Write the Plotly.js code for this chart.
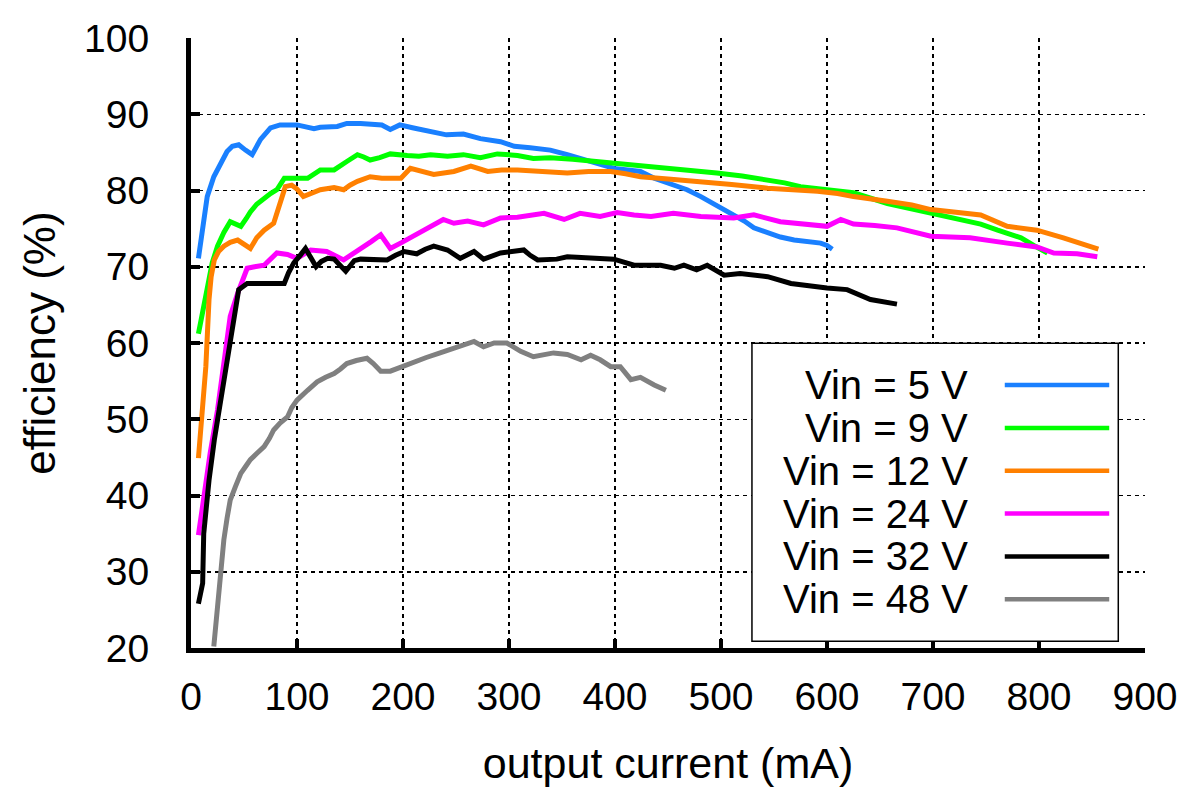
<!DOCTYPE html>
<html>
<head>
<meta charset="utf-8">
<script src="https://cdn.plot.ly/plotly-3.0.1.min.js"></script>
<style>html,body{margin:0;padding:0;background:#fff;}#chart{width:1192px;height:787px;}</style>
</head>
<body>
<div id="chart"></div>
<script>
// ---- data ----
const seriesNames = ["Vin = 5 V", "Vin = 9 V", "Vin = 12 V", "Vin = 24 V", "Vin = 32 V", "Vin = 48 V"];
const seriesColors = ["#1a80ff", "#00ff00", "#ff8000", "#ff00ff", "#000000", "#808080"];

const x5 = [7, 10.6, 15.3, 21.5, 27.8, 34, 39, 45, 51.4, 57.7, 65.6, 75, 84, 100, 116, 122, 138, 147, 160, 172, 180, 188, 197, 210, 225, 241, 257, 273, 292, 305, 320, 339, 355, 371, 385, 399, 412, 424, 437, 452, 468, 481, 493, 503, 512, 522, 531, 544, 556, 569, 581, 594, 600, 605];
const y5 = [71.1, 74.8, 79.2, 81.8, 83.6, 85.1, 85.8, 86, 85.3, 84.7, 86.7, 88.2, 88.6, 88.6, 88.1, 88.3, 88.4, 88.8, 88.8, 88.7, 88.6, 88, 88.6, 88.2, 87.8, 87.3, 87.4, 86.8, 86.4, 85.8, 85.6, 85.3, 84.7, 84, 83.5, 82.9, 82.7, 82.5, 81.6, 80.9, 80.1, 79.2, 78.3, 77.6, 76.8, 76, 75.1, 74.4, 73.9, 73.5, 73.3, 73.1, 72.8, 72.3];

const x9 = [7, 11, 15, 20, 25, 31, 37, 42, 47, 52, 56, 62, 69, 75, 81, 88, 95, 110, 122, 135, 147, 157, 163, 169, 178, 188, 204, 215, 226, 242, 257, 273, 289, 308, 323, 339, 360, 383, 400, 418, 433, 449, 472, 496, 520, 544, 560, 575, 600, 625, 657, 680, 698, 715, 729, 745, 761, 772, 783, 795, 808];
const y9 = [61.2, 64.3, 67.4, 70.5, 72.7, 74.5, 75.9, 75.6, 75.3, 76.3, 77.2, 78.2, 79, 79.6, 80.1, 81.6, 81.6, 81.6, 82.7, 82.7, 83.8, 84.7, 84.4, 84, 84.3, 84.8, 84.6, 84.5, 84.7, 84.5, 84.7, 84.3, 84.8, 84.6, 84.2, 84.3, 84.1, 83.8, 83.6, 83.4, 83.1, 82.9, 82.6, 82.3, 81.9, 81.4, 81, 80.5, 80.1, 79.7, 78.3, 77.6, 77, 76.6, 76.2, 75.6, 74.8, 74.3, 73.8, 72.8, 71.8];

const x12 = [7, 9, 11, 14, 17, 19, 22, 26, 31, 37, 44, 50, 56, 62, 69, 78, 84, 89, 95, 100, 106, 114, 122, 135, 144, 150, 157, 169, 180, 191, 198, 207, 218, 229, 248, 264, 280, 293, 308, 325, 355, 375, 396, 410, 424, 450, 481, 510, 544, 570, 591, 610, 625, 657, 680, 698, 720, 745, 770, 798, 823, 845, 856];
const y12 = [44.9, 48.5, 52.1, 56.9, 65.7, 68.7, 70.9, 72, 72.7, 73.2, 73.5, 73, 72.4, 73.8, 74.8, 75.7, 78.3, 80.5, 80.7, 80.2, 79.2, 79.7, 80.1, 80.4, 80.1, 80.7, 81.2, 81.8, 81.6, 81.6, 81.6, 82.9, 82.5, 82.1, 82.5, 83.2, 82.5, 82.7, 82.7, 82.6, 82.3, 82.5, 82.5, 82.2, 81.8, 81.5, 81.2, 80.8, 80.3, 80.1, 79.9, 79.6, 79.2, 78.6, 78.1, 77.5, 77.2, 76.8, 75.3, 74.8, 73.8, 72.9, 72.3];

const x24 = [7, 12, 18, 25, 31, 37, 44, 53, 60, 69, 75, 81, 91, 100, 113, 128, 144, 152, 160, 170, 179, 188, 199, 210, 225, 238, 248, 261, 276, 292, 308, 333, 352, 367, 386, 402, 418, 434, 455, 481, 512, 531, 556, 575, 591, 600, 613, 625, 645, 666, 698, 735, 770, 798, 814, 836, 855];
const y24 = [34.8, 39.8, 45.5, 51.2, 56.9, 63.5, 66.5, 69.8, 70, 70.2, 71, 71.8, 71.6, 71.1, 72.2, 72, 70.9, 71.6, 72.4, 73.3, 74.2, 72.4, 73.2, 74, 75.1, 76.2, 75.7, 76, 75.5, 76.4, 76.5, 77, 76.2, 77, 76.6, 77.1, 76.8, 76.6, 77, 76.6, 76.4, 76.8, 75.9, 75.7, 75.5, 75.3, 76.2, 75.6, 75.4, 75.1, 74, 73.8, 73.1, 72.6, 71.8, 71.7, 71.3];

const x32 = [7, 11, 12, 17, 22, 28, 34, 42, 45, 53, 65, 75, 88, 92, 97, 103, 108, 113, 118, 123, 129, 135, 141, 146, 150, 154, 160, 166, 175, 185, 193, 201, 213, 221, 229, 242, 254, 267, 276, 292, 314, 320, 327, 345, 355, 374, 399, 418, 443, 456, 465, 477, 487, 503, 518, 544, 566, 600, 619, 641, 666];
const y32 = [25.8, 28.5, 35, 42, 47.3, 52.5, 57.8, 64.3, 67, 67.8, 67.8, 67.8, 67.8, 69.2, 70.5, 71.5, 72.4, 71.2, 70, 70.7, 71.1, 71, 70.2, 69.4, 70.1, 70.8, 71, 71, 70.9, 70.9, 71.5, 72, 71.7, 72.3, 72.7, 72.2, 71.1, 72, 71, 71.8, 72.2, 71.5, 70.9, 71, 71.3, 71.2, 71, 70.2, 70.2, 69.8, 70.2, 69.6, 70.2, 68.9, 69.1, 68.7, 67.8, 67.2, 67, 65.7, 65.1];

const x48 = [21.5, 24, 26, 28.5, 31, 34, 37, 42, 47, 52, 56, 62, 69, 74, 78, 84, 91, 95, 100, 110, 119, 127, 135, 141, 147, 156, 166, 172, 179, 188, 199, 210, 222, 235, 248, 261, 267, 276, 286, 298, 311, 323, 342, 355, 368, 377, 386, 396, 405, 415, 424, 437, 448];
const y48 = [20.2, 24, 28, 31.2, 34.2, 37, 39.4, 41.2, 42.9, 43.9, 44.7, 45.5, 46.4, 47.5, 48.6, 49.5, 50.3, 51.5, 52.5, 53.8, 54.9, 55.5, 56, 56.6, 57.3, 57.7, 58, 57.3, 56.3, 56.3, 56.9, 57.6, 58.1, 58.7, 59.3, 60, 60.2, 59.5, 60, 60, 58.9, 58.2, 58.7, 58.5, 57.8, 58.4, 57.8, 56.9, 56.9, 55.2, 55.5, 54.5, 53.8];

const xTicks = [0, 100, 200, 300, 400, 500, 600, 700, 800, 900];
const yTicks = [20, 30, 40, 50, 60, 70, 80, 90, 100];

// ---- traces ----
const xs = [x5, x9, x12, x24, x32, x48];
const ys = [y5, y9, y12, y24, y32, y48];
const traces = xs.map((x, i) => ({
  type: 'scatter', mode: 'lines', x: x, y: ys[i], name: seriesNames[i],
  line: {color: seriesColors[i], width: 5}, showlegend: false
}));

// ---- legend drawn as annotations + shapes (text left, sample line right) ----
const FONT = 'Liberation Sans, Arial, sans-serif';
const legTop = 0.431, legStep = 0.0702;
const annotations = [];
const shapes = [{type: 'rect', xref: 'paper', yref: 'paper', x0: 0.588, x1: 0.972, y0: 0.011, y1: 0.4995,
  line: {color: '#000', width: 1.5}, fillcolor: '#fff', layer: 'above'}];
seriesNames.forEach((n, i) => {
  const yy = legTop - i * legStep;
  annotations.push({xref: 'paper', yref: 'paper', x: 0.8167, y: yy, xanchor: 'right', yanchor: 'middle',
    text: n, showarrow: false, font: {family: FONT, size: 40, color: '#000'}});
  shapes.push({type: 'line', xref: 'paper', yref: 'paper', x0: 0.853, x1: 0.9625, y0: yy, y1: yy,
    line: {color: seriesColors[i], width: 4.5}, layer: 'above'});
});

const layout = {
  width: 1192, height: 787,
  margin: {l: 191, r: 47, t: 38, b: 139},
  paper_bgcolor: '#fff', plot_bgcolor: '#fff',
  font: {family: FONT, color: '#000'},
  showlegend: false,
  xaxis: {
    range: [0, 900], tickvals: xTicks, ticktext: xTicks.map(String),
    showline: true, linewidth: 5, linecolor: '#000',
    ticks: 'inside', ticklen: 9, tickwidth: 4, tickcolor: '#000',
    showgrid: true, gridcolor: '#000', gridwidth: 1.5, griddash: '4px,4px',
    zeroline: false, tickfont: {family: FONT, size: 39, color: '#000'},
    ticklabelstandoff: 10,
    title: {text: 'output current (mA)', font: {family: FONT, size: 43, color: '#000'}, standoff: 35}
  },
  yaxis: {
    range: [20, 100], tickvals: yTicks, ticktext: yTicks.map(String),
    showline: true, linewidth: 5, linecolor: '#000',
    ticks: 'inside', ticklen: 9, tickwidth: 4, tickcolor: '#000',
    showgrid: true, gridcolor: '#000', gridwidth: 1.5, griddash: '4px,4px',
    zeroline: false, tickfont: {family: FONT, size: 39, color: '#000'},
    ticklabelstandoff: 29,
    title: {text: 'efficiency (%)', font: {family: FONT, size: 44, color: '#000'}, standoff: 16}
  },
  annotations: annotations,
  shapes: shapes
};

Plotly.newPlot('chart', traces, layout, {staticPlot: true, displayModeBar: false});
</script>
</body>
</html>
